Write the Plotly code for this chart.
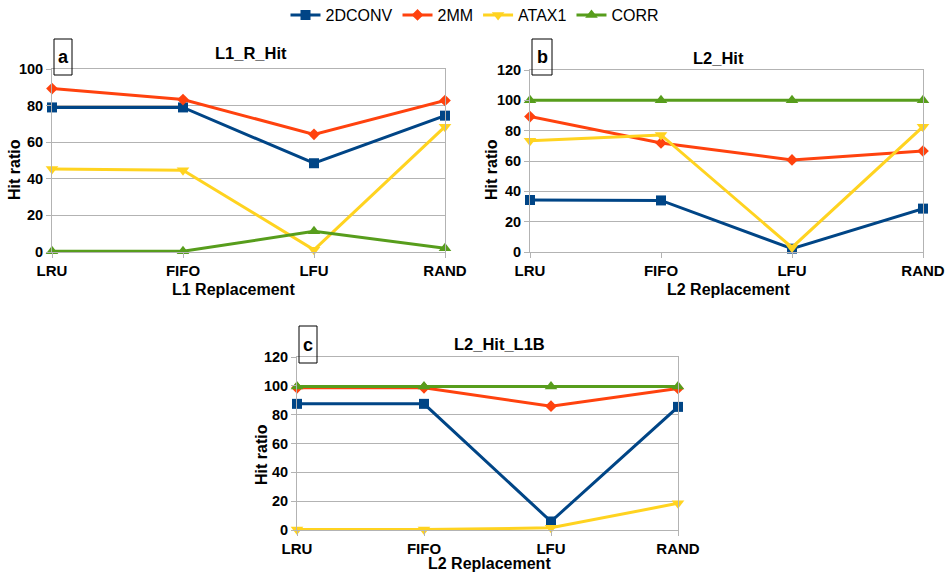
import plotly.graph_objects as go

W, H = 950, 575

categories = ["LRU", "FIFO", "LFU", "RAND"]
series_names = ["2DCONV", "2MM", "ATAX1", "CORR"]

# Panel a: L1_R_Hit
a_2dconv = [79, 79, 48.5, 74.5]
a_2mm = [89.3, 83.3, 64.3, 82.8]
a_atax1 = [45.3, 44.7, 1.2, 68.5]
a_corr = [0.4, 0.4, 11.3, 2.0]

# Panel b: L2_Hit
b_2dconv = [34.3, 34.0, 2.2, 28.6]
b_2mm = [89.3, 71.9, 60.7, 66.6]
b_atax1 = [73.4, 77.2, 3.0, 82.6]
b_corr = [100, 100, 100, 100]

# Panel c: L2_Hit_L1B
c_2dconv = [87.5, 87.5, 5.9, 85.4]
c_2mm = [98.6, 98.6, 85.9, 98.2]
c_atax1 = [0.3, 0.3, 1.5, 18.5]
c_corr = [99.6, 99.6, 99.6, 99.6]

colors = ["#004586", "#ff420e", "#ffd320", "#579d1c"]
symbols = ["square", "diamond", "triangle-down", "triangle-up"]
msizes = [10, 9, 11, 11]

panels = [
    dict(key="a", data=[a_2dconv, a_2mm, a_atax1, a_corr], title="L1_R_Hit",
         xtitle="L1 Replacement", ymax=100,
         box=(52, 445, 69, 252), ttl=(251, 53), xt=(233, 289), yt=(14, 170),
         lbl=(54, 72, 39, 75)),
    dict(key="b", data=[b_2dconv, b_2mm, b_atax1, b_corr], title="L2_Hit",
         xtitle="L2 Replacement", ymax=120,
         box=(530, 923, 70, 252), ttl=(718, 58), xt=(728, 289), yt=(491, 170),
         lbl=(532, 552, 39, 75)),
    dict(key="c", data=[c_2dconv, c_2mm, c_atax1, c_corr], title="L2_Hit_L1B",
         xtitle="L2 Replacement", ymax=120,
         box=(297, 678, 357, 530), ttl=(499, 344), xt=(489, 563), yt=(261, 455),
         lbl=(299, 317, 326, 363)),
]


def px(x):
    return x / W


def py(y):
    return 1 - y / H


fig = go.Figure()
annotations = []
shapes = []
FONT = "Liberation Sans, Arial, sans-serif"
GRID = "#b3b3b3"

for i, p in enumerate(panels):
    n = "" if i == 0 else str(i + 1)
    xa, ya = "x" + n, "y" + n
    x0, x1, y0, y1 = p["box"]
    for j, vals in enumerate(p["data"]):
        fig.add_trace(go.Scatter(
            x=categories, y=vals, xaxis=xa, yaxis=ya, name=series_names[j],
            mode="lines+markers", showlegend=(i == 0), legendgroup=series_names[j],
            line=dict(color=colors[j], width=3),
            marker=dict(symbol=symbols[j], size=msizes[j], color=colors[j]),
            cliponaxis=False,
        ))
    axis_common = dict(showline=True, linecolor=GRID, linewidth=1, mirror=True,
                       ticks="outside", ticklen=5, tickcolor=GRID,
                       zeroline=False, automargin=False)
    fig.layout["xaxis" + n] = dict(domain=[px(x0), px(x1)], anchor=ya,
                                   type="category", range=[0, 3], showgrid=False,
                                   tickfont=dict(family=FONT, size=15, color="black",
                                                 weight="bold"),
                                   **axis_common)
    fig.layout["yaxis" + n] = dict(domain=[py(y1), py(y0)], anchor=xa,
                                   range=[0, p["ymax"]], dtick=20, showgrid=True,
                                   gridcolor=GRID, gridwidth=1,
                                   tickfont=dict(family=FONT, size=14.5, color="black",
                                                 weight="bold"),
                                   **axis_common)
    bold = dict(family=FONT, color="black", weight="bold")
    annotations.append(dict(text=p["title"], x=px(p["ttl"][0]), y=py(p["ttl"][1]),
                            xref="paper", yref="paper", showarrow=False,
                            xanchor="center", yanchor="middle",
                            font=dict(size=16.5, **bold)))
    annotations.append(dict(text=p["xtitle"], x=px(p["xt"][0]), y=py(p["xt"][1]),
                            xref="paper", yref="paper", showarrow=False,
                            xanchor="center", yanchor="middle",
                            font=dict(size=16, **bold)))
    annotations.append(dict(text="Hit ratio", x=px(p["yt"][0]), y=py(p["yt"][1]),
                            xref="paper", yref="paper", showarrow=False, textangle=-90,
                            xanchor="center", yanchor="middle",
                            font=dict(size=16, **bold)))
    lx0, lx1, ly0, ly1 = p["lbl"]
    shapes.append(dict(type="rect", xref="paper", yref="paper",
                       x0=px(lx0), x1=px(lx1), y0=py(ly1), y1=py(ly0),
                       line=dict(color="black", width=1)))
    annotations.append(dict(text=p["key"], x=px((lx0 + lx1) / 2), y=py((ly0 + ly1) / 2),
                            xref="paper", yref="paper", showarrow=False,
                            xanchor="center", yanchor="middle",
                            font=dict(size=18, **bold)))

fig.update_layout(
    width=W, height=H, margin=dict(l=0, r=0, t=0, b=0, autoexpand=False),
    paper_bgcolor="white", plot_bgcolor="white",
    font=dict(family=FONT, color="black"),
    legend=dict(orientation="h", x=0.5, xanchor="center", y=1.0 + 2 / H, yanchor="top",
                font=dict(family=FONT, size=16, color="black"),
                itemwidth=30, tracegroupgap=0),
    annotations=annotations, shapes=shapes,
)

fig.write_html("out.html")
